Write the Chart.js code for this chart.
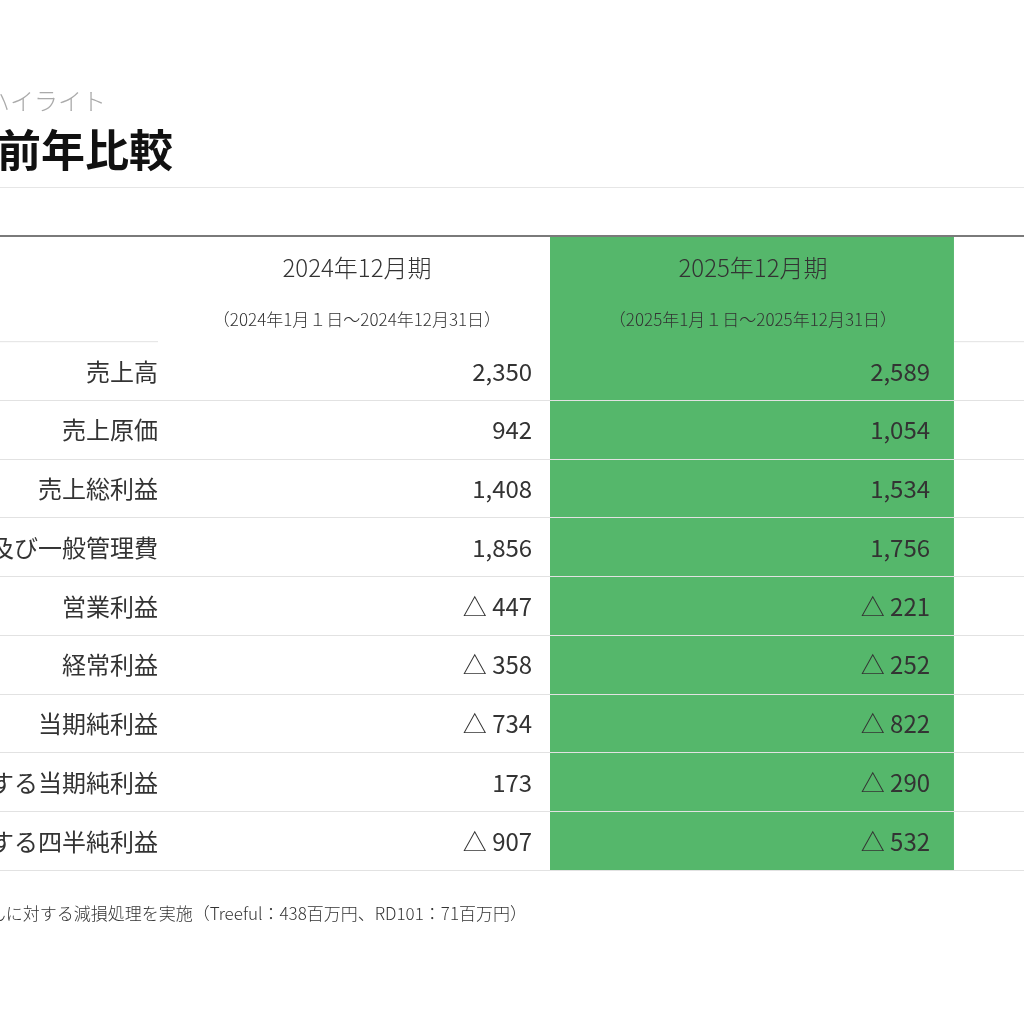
<!DOCTYPE html>
<html><head><meta charset="utf-8">
<script src="https://cdn.jsdelivr.net/npm/chart.js@4/dist/chart.umd.min.js"></script>
<style>html,body{margin:0;padding:0;background:#fff}canvas{display:block}</style>
</head><body><canvas id="c" width="1024" height="1024"></canvas>
<script>
const rowLabels=['売上高','売上原価','売上総利益','販売費及び一般管理費','営業利益','経常利益','当期純利益','親会社株主に帰属する当期純利益','親会社株主に帰属する四半純利益'];
const fy2024=['2,350','942','1,408','1,856','△ 447','△ 358','△ 734','173','△ 907'];
const fy2025=['2,589','1,054','1,534','1,756','△ 221','△ 252','△ 822','△ 290','△ 532'];
const diff=['239','112','126','100','226','106','△ 88','463','375'];
const colHeads=['2024年12月期','2025年12月期','増減'];
const colPeriods=['（2024年1月１日～2024年12月31日）','（2025年1月１日～2025年12月31日）',''];
const subtitle='業績ハイライト';
const title='業績の前年比較';
const note='※のれんに対する減損処理を実施（Treeful：438百万円、RD101：71百万円）';

const F='"Noto Sans CJK JP","Noto Sans",sans-serif';
const tablePlugin={id:'tbl',
beforeDatasetsDraw(ch){
  const c=ch.ctx,x=ch.scales.x,y=ch.scales.y;
  const X=v=>x.getPixelForValue(v),Y=v=>y.getPixelForValue(v);
  c.save();
  // green column
  c.fillStyle='#55b76b';
  c.fillRect(X(0.985),Y(-1.79),X(2.0)-X(0.985),Y(9)-Y(-1.79));
  // row lines
  for(let i=1;i<=9;i++){
    c.strokeStyle='#e2e2e2';c.lineWidth=1;
    c.beginPath();c.moveTo(0,Math.round(Y(i))+0.5);c.lineTo(1024,Math.round(Y(i))+0.5);c.stroke();
  }
  c.strokeStyle='#e2e2e2';
  c.beginPath();c.moveTo(0,Y(0)+0.5);c.lineTo(X(0),Y(0)+0.5);c.moveTo(X(2.0),Y(0)+0.5);c.lineTo(1024,Y(0)+0.5);c.stroke();
  c.strokeStyle='#7a7a7a';c.lineWidth=2;
  c.beginPath();c.moveTo(0,Y(-1.79));c.lineTo(1024,Y(-1.79));c.stroke();
  // headers
  c.fillStyle='#333';c.textAlign='center';c.textBaseline='middle';
  colHeads.forEach((h,i)=>{
    const cx=X(i+0.5-(i==1?0.01:0));
    c.font='300 24px '+F;c.fillText(h,X(i*0.995+0.5),Y(-1.24));
    c.font='300 17px '+F;c.fillText(colPeriods[i],X(i*0.995+0.5),Y(-0.36));
  });
  // body
  c.font='400 24px '+F;
  rowLabels.forEach((l,i)=>{
    const cy=Y(i+0.5)+1;
    c.textAlign='right';
    c.fillText(l,X(0),cy);
    c.fillText(fy2024[i],X(0.94),cy);
    c.fillText(fy2025[i],X(1.94),cy);
    c.fillText(diff[i],X(2.35),cy);
  });
  c.restore();
},
afterDraw(ch){
  const c=ch.ctx;c.save();
  c.textAlign='right';c.textBaseline='alphabetic';
  c.fillStyle='#aaa';c.font='300 24px '+F;c.fillText(subtitle,106,110);
  c.fillStyle='#111';c.font='700 44px '+F;c.fillText(title,173,167);
  c.strokeStyle='#e6e6e6';c.lineWidth=1;c.beginPath();c.moveTo(0,187.5);c.lineTo(1024,187.5);c.stroke();
  c.fillStyle='#333';c.font='300 17px '+F;c.fillText(note,527,920);
  c.restore();
}};
new Chart(document.getElementById('c'),{
  type:'scatter',
  data:{datasets:[{data:[],pointRadius:0}]},
  options:{responsive:false,animation:false,devicePixelRatio:1,
    layout:{padding:{left:0,right:0,top:236,bottom:154}},
    plugins:{legend:{display:false},tooltip:{enabled:false}},
    scales:{
      x:{type:'linear',min:-0.397,max:2.176,display:false},
      y:{type:'linear',min:-1.79,max:9,reverse:true,display:false}
    }},
  plugins:[tablePlugin]
});
</script></body></html>
